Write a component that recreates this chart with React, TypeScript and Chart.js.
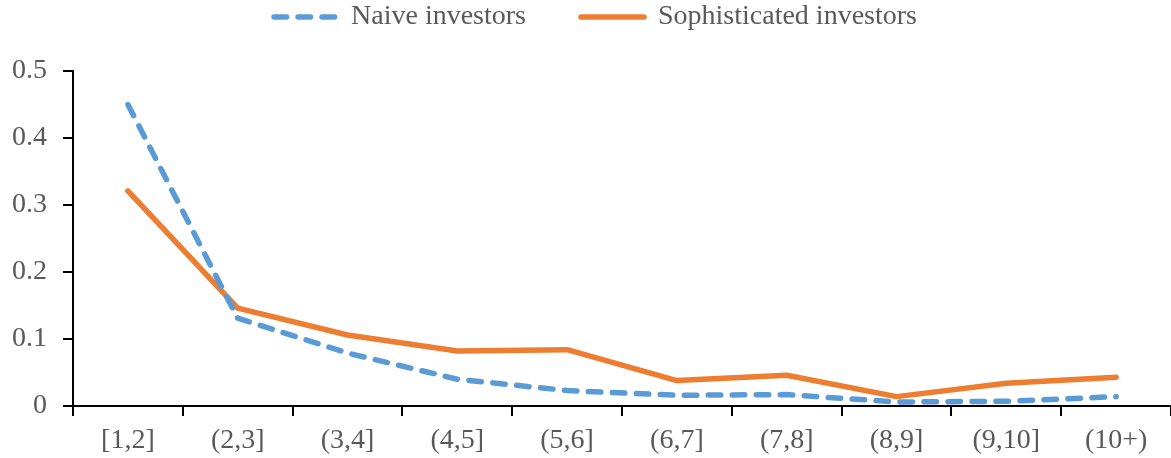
import React, { useEffect, useRef } from "react";
import { Chart, registerables } from "chart.js";

Chart.register(...registerables);

const categories = ["[1,2]", "(2,3]", "(3,4]", "(4,5]", "(5,6]", "(6,7]", "(7,8]", "(8,9]", "(9,10]", "(10+)"];
const naiveValues = [0.45, 0.131, 0.079, 0.04, 0.023, 0.016, 0.017, 0.006, 0.007, 0.014];
const sophisticatedValues = [0.321, 0.146, 0.106, 0.082, 0.084, 0.038, 0.046, 0.014, 0.034, 0.043];
const seriesLabels = ["Naive investors", "Sophisticated investors"];

const FONT = "'Liberation Serif', 'Times New Roman', serif";
const TEXT = "#595959";
const LINE_W = 5.5;

const legendShift = {
  id: "legendShift",
  afterLayout(chart: any) {
    const lg = chart.legend;
    if (!lg) return;
    lg.left += 10;
    lg.right += 10;
    lg.top -= 79;
  },
};

export default function App() {
  const ref = useRef<HTMLCanvasElement | null>(null);
  useEffect(() => {
    document.body.style.margin = "0";
    const chart = new Chart(ref.current as HTMLCanvasElement, {
      type: "line",
      data: {
        labels: categories,
        datasets: [
          {
            label: seriesLabels[0],
            data: naiveValues,
            borderColor: "#5B9BD5",
            backgroundColor: "#5B9BD5",
            borderWidth: LINE_W,
            borderDash: [12.5, 11.5],
            borderCapStyle: "round",
            borderJoinStyle: "round",
            pointRadius: 0,
            tension: 0,
          },
          {
            label: seriesLabels[1],
            data: sophisticatedValues,
            borderColor: "#ED7D31",
            backgroundColor: "#ED7D31",
            borderWidth: LINE_W,
            borderCapStyle: "round",
            borderJoinStyle: "round",
            pointRadius: 0,
            tension: 0,
          },
        ],
      },
      plugins: [legendShift],
      options: {
        animation: false,
        responsive: true,
        maintainAspectRatio: false,
        layout: { padding: { top: 27, left: 0, right: 0, bottom: 0 } },
        plugins: {
          tooltip: { enabled: false },
          legend: {
            position: "top",
            maxHeight: 44,
            labels: {
              usePointStyle: true,
              pointStyle: "line",
              pointStyleWidth: 63,
              boxHeight: 28,
              padding: 55,
              color: TEXT,
              font: { family: FONT, size: 28 },
              generateLabels: (c: any) => {
                const items = (Chart as any).defaults.plugins.legend.labels.generateLabels(c);
                items.forEach((it: any) => {
                  const ds = c.data.datasets[it.datasetIndex];
                  it.lineDash = ds.borderDash || [];
                  it.lineDashOffset = 0;
                  it.lineWidth = LINE_W;
                  it.lineCap = "round";
                  it.strokeStyle = ds.borderColor;
                  it.fillStyle = ds.borderColor;
                  it.pointStyle = "line";
                });
                return items;
              },
            },
          },
        },
        scales: {
          x: {
            offset: true,
            grid: {
              offset: true,
              drawOnChartArea: false,
              drawTicks: true,
              tickLength: 10,
              color: "#000",
              lineWidth: 2,
            },
            border: { display: true, color: "#000", width: 2 },
            ticks: {
              color: TEXT,
              font: { family: FONT, size: 28 },
              padding: 8,
              maxRotation: 0,
              autoSkip: false,
            },
            afterFit: (s: any) => {
              s.height = 52;
            },
          },
          y: {
            min: 0,
            max: 0.5,
            grid: {
              drawOnChartArea: false,
              drawTicks: true,
              tickLength: 10,
              color: "#000",
              lineWidth: 2,
            },
            border: { display: true, color: "#000", width: 2 },
            ticks: {
              stepSize: 0.1,
              color: TEXT,
              font: { family: FONT, size: 28 },
              padding: 16,
            },
            afterFit: (s: any) => {
              s.width = 73;
            },
          },
        },
      },
    } as any);
    return () => chart.destroy();
  }, []);
  return (
    <div style={{ width: "1171px", height: "458px", position: "relative" }}>
      <canvas ref={ref} />
    </div>
  );
}
